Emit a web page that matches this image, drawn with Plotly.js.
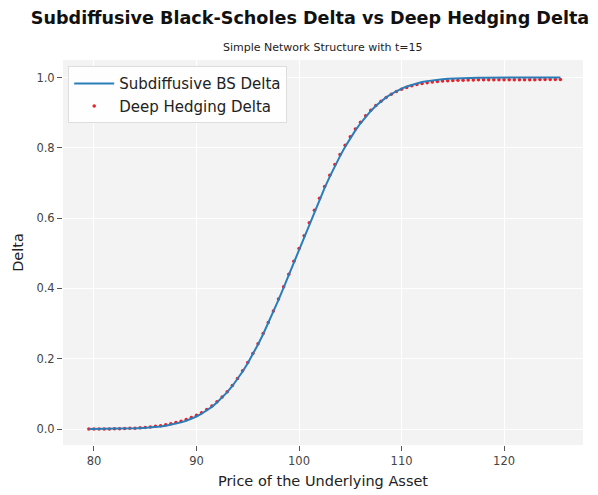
<!DOCTYPE html>
<html>
<head>
<meta charset="utf-8">
<script src="https://cdn.plot.ly/plotly-3.0.1.min.js"></script>
<style>html,body{margin:0;padding:0;background:#fff;}#chart{width:598px;height:495px;}</style>
</head>
<body>
<div id="chart"></div>
<script>
const price = [79.5,80,80.5,81,81.5,82,82.5,83,83.5,84,84.5,85,85.5,86,86.5,87,87.5,88,88.5,89,89.5,90,
  90.5,91,91.5,92,92.5,93,93.5,94,94.5,95,95.5,96,96.5,97,97.5,98,98.5,99,99.5,100,
  100.5,101,101.5,102,102.5,103,103.5,104,104.5,105,105.5,106,106.5,107,107.5,108,108.5,109,109.5,110,
  110.5,111,111.5,112,112.5,113,113.5,114,114.5,115,115.5,116,116.5,117,117.5,118,118.5,119,119.5,120,
  120.5,121,121.5,122,122.5,123,123.5,124,124.5,125,125.5];

const bsDelta = [0.0001,0.0001,0.0002,0.0003,0.0004,0.0005,0.0007,0.0010,0.0014,0.0019,0.0025,0.0033,0.0043,0.0056,0.0072,0.0093,0.0119,0.0150,0.0188,0.0235,0.0290,0.0356,
  0.0434,0.0525,0.0631,0.0752,0.0891,0.1048,0.1224,0.1421,0.1636,0.1872,0.2128,0.2404,0.2697,0.3008,0.3336,0.3673,0.4024,0.4380,0.4745,0.5109,
  0.5474,0.5834,0.6188,0.6531,0.6862,0.7180,0.7480,0.7764,0.8029,0.8272,0.8496,0.8699,0.8884,0.9049,0.9194,0.9323,0.9434,0.9531,0.9614,0.9685,
  0.9745,0.9794,0.9836,0.9870,0.9897,0.9920,0.9938,0.9952,0.9964,0.9972,0.9979,0.9985,0.9989,0.9992,0.9994,0.9996,0.9997,0.9998,0.9998,0.9999,
  0.9999,0.9999,1.0000,1.0000,1.0000,1.0000,1.0000,1.0000,1.0000,1.0000,1.0000];

const dhDelta = [0.0000,0.0000,0.0001,0.0002,0.0003,0.0005,0.0008,0.0012,0.0018,0.0025,0.0034,0.0045,0.0059,0.0076,0.0096,0.0120,0.0148,0.0182,0.0222,0.0270,0.0326,0.0390,
  0.0465,0.0552,0.0655,0.0772,0.0908,0.1062,0.1238,0.1435,0.1655,0.1895,0.2150,0.2425,0.2720,0.3030,0.3360,0.3700,0.4050,0.4405,0.4770,0.5135,
  0.5500,0.5865,0.6220,0.6565,0.6900,0.7220,0.7525,0.7810,0.8075,0.8315,0.8535,0.8730,0.8910,0.9068,0.9206,0.9328,0.9432,0.9522,0.9600,0.9665,
  0.9718,0.9762,0.9798,0.9828,0.9852,0.9871,0.9886,0.9898,0.9907,0.9915,0.9920,0.9925,0.9929,0.9932,0.9934,0.9935,0.9936,0.9937,0.9937,0.9938,
  0.9938,0.9938,0.9939,0.9939,0.9939,0.9939,0.9940,0.9940,0.9940,0.9940,0.9940];

const xTicks = [80,90,100,110,120];
const yTicks = [0.0,0.2,0.4,0.6,0.8,1.0];

const FONT = 'DejaVu Sans, sans-serif';

const traces = [
  {x: price, y: dhDelta, type: 'scatter', mode: 'markers', name: 'Deep Hedging Delta',
   marker: {color: '#e8202a', size: 3.5}, legendrank: 2},
  {x: price, y: bsDelta, type: 'scatter', mode: 'lines', name: 'Subdiffusive BS Delta',
   line: {color: '#2a7db8', width: 2}, legendrank: 1}
];

const layout = {
  width: 598, height: 495,
  margin: {l: 63, r: 15, t: 60, b: 50},
  paper_bgcolor: '#ffffff',
  plot_bgcolor: '#f3f3f3',
  font: {family: FONT, color: '#333'},
  title: {text: '<b>Subdiffusive Black-Scholes Delta vs Deep Hedging Delta</b>',
    font: {family: FONT, size: 17.6, color: '#111'},
    x: 310/598, xref: 'container', xanchor: 'center',
    y: 1 - 18/495, yref: 'container', yanchor: 'middle'},
  annotations: [{text: 'Simple Network Structure with t=15', xref: 'paper', yref: 'paper',
    x: 0.5, y: 1 + 13/385, xanchor: 'center', yanchor: 'middle', showarrow: false,
    font: {family: FONT, size: 11, color: '#222'}}],
  xaxis: {range: [76.98, 127.7], tickvals: xTicks, ticks: 'outside', ticklen: 5, tickcolor: '#555',
    tickfont: {family: FONT, size: 11.5, color: '#444'}, gridcolor: '#ffffff', gridwidth: 1,
    zeroline: false, showline: false,
    title: {text: 'Price of the Underlying Asset', font: {family: FONT, size: 14.5, color: '#222'}, standoff: 9}},
  yaxis: {range: [-0.0455, 1.0498], tickvals: yTicks, tickformat: '.1f', ticks: 'outside', ticklen: 5, tickcolor: '#555',
    tickfont: {family: FONT, size: 11.5, color: '#444'}, gridcolor: '#ffffff', gridwidth: 1,
    zeroline: false, showline: false,
    title: {text: 'Delta', font: {family: FONT, size: 14.5, color: '#222'}, standoff: 9}},
  legend: {x: 0.01, y: 0.984, xanchor: 'left', yanchor: 'top',
    bgcolor: 'rgba(255,255,255,0.85)', bordercolor: '#dddddd', borderwidth: 1,
    font: {family: FONT, size: 15, color: '#222'}, tracegroupgap: 0, itemwidth: 40},
  showlegend: true
};

Plotly.newPlot('chart', traces, layout, {displayModeBar: false, staticPlot: true});
</script>
</body>
</html>
